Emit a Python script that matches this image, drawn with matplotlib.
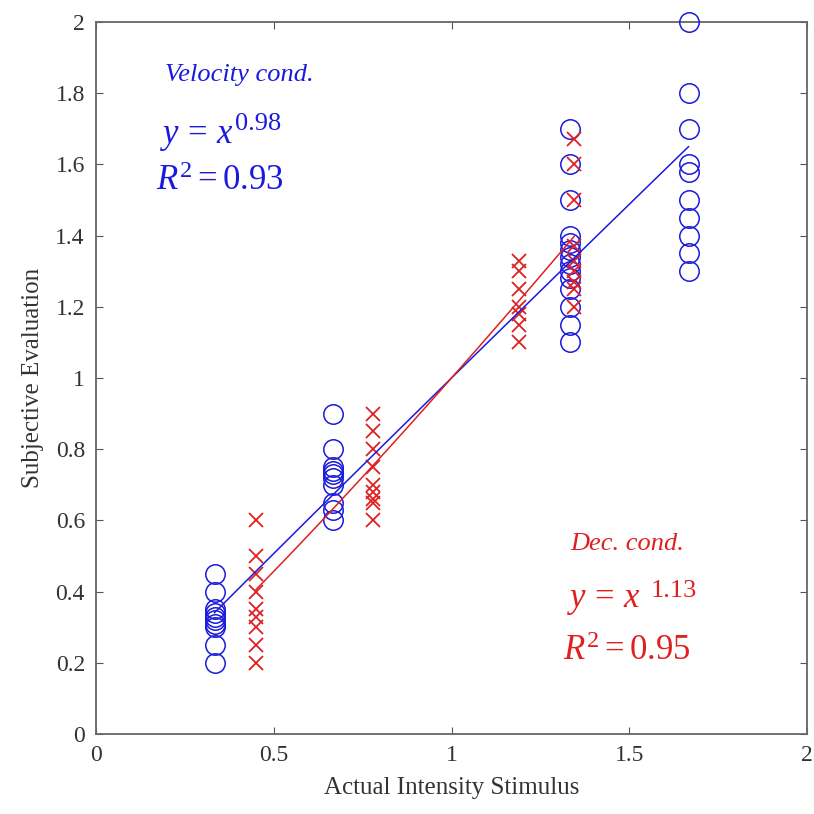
import numpy as np
import matplotlib
matplotlib.use("Agg")
import matplotlib.pyplot as plt

# Velocity condition (blue circles)
vel_x1 = 1/3
vel_y1 = [0.45, 0.40, 0.35, 0.34, 0.33, 0.32, 0.31, 0.30, 0.25, 0.20]
vel_x2 = 2/3
vel_y2 = [0.90, 0.80, 0.75, 0.74, 0.73, 0.72, 0.70, 0.65, 0.63, 0.60]
vel_x3 = 4/3
vel_y3 = [1.70, 1.60, 1.50, 1.40, 1.38, 1.36, 1.34, 1.32, 1.30, 1.28, 1.25, 1.20, 1.15, 1.10]
vel_x4 = 5/3
vel_y4 = [2.00, 1.80, 1.70, 1.60, 1.58, 1.50, 1.45, 1.40, 1.35, 1.30]

# Deceleration condition (red crosses)
dec_x1 = 0.45
dec_y1 = [0.60, 0.50, 0.45, 0.40, 0.35, 0.33, 0.30, 0.25, 0.20]
dec_x2 = 0.778
dec_y2 = [0.90, 0.85, 0.80, 0.75, 0.70, 0.68, 0.66, 0.65, 0.60]
dec_x3 = 1.19
dec_y3 = [1.33, 1.30, 1.25, 1.20, 1.18, 1.15, 1.10]
dec_x4 = 1.345
dec_y4 = [1.67, 1.60, 1.50, 1.37, 1.33, 1.30, 1.27, 1.25, 1.20]

vel_exp = 0.98
dec_exp = 1.13
vel_r2 = 0.93
dec_r2 = 0.95
vel_fit_range = [1/3, 5/3]
dec_fit_range = [0.45, 1.345]

blue = "#1a1adc"
red = "#e02020"

plt.rcParams['font.family'] = ['Liberation Serif', 'DejaVu Serif']
plt.rcParams['mathtext.fontset'] = 'custom'
plt.rcParams['mathtext.rm'] = 'Liberation Serif'
plt.rcParams['mathtext.it'] = 'Liberation Serif:italic'

fig = plt.figure(figsize=(8.14, 8.14), dpi=100)
ax = fig.add_axes([96/814, 1 - 734/814, (807-96)/814, (734-22)/814])

for xv, ys in [(vel_x1, vel_y1), (vel_x2, vel_y2), (vel_x3, vel_y3), (vel_x4, vel_y4)]:
    ax.plot([xv]*len(ys), ys, linestyle='none', marker='o', markersize=14,
            markerfacecolor='none', markeredgecolor=blue, markeredgewidth=1.1,
            zorder=3, clip_on=False)
for xv, ys in [(dec_x1, dec_y1), (dec_x2, dec_y2), (dec_x3, dec_y3), (dec_x4, dec_y4)]:
    ax.plot([xv]*len(ys), ys, linestyle='none', marker='x', markersize=10,
            color=red, markeredgewidth=1.3, zorder=3, clip_on=False)

xv = np.linspace(*vel_fit_range, 100)
ax.plot(xv, xv**vel_exp, color=blue, lw=1.1, zorder=4)
xd = np.linspace(*dec_fit_range, 100)
ax.plot(xd, xd**dec_exp, color=red, lw=1.1, zorder=4)

ax.set_xlim(0, 2)
ax.set_ylim(0, 2)
ax.set_xticks([0, 0.5, 1, 1.5, 2])
ax.set_xticklabels(['0', '0.5', '1', '1.5', '2'])
ax.set_yticks(np.arange(0, 2.01, 0.2))
ax.set_yticklabels(['0', '0.2', '0.4', '0.6', '0.8', '1', '1.2', '1.4', '1.6', '1.8', '2'])
ax.tick_params(direction='in', top=True, right=True, labelsize=17, length=5,
               color='#555555', labelcolor='#333333', pad=8)
for s in ax.spines.values():
    s.set_color('#666666')
    s.set_linewidth(1.3)

ax.set_xlabel('Actual Intensity Stimulus', fontsize=18, color='#333333', labelpad=8)
ax.set_ylabel('Subjective Evaluation', fontsize=18, color='#333333', labelpad=8)

def annot(x0, xcond, ycond, yeq, yr2, xexp, yexp, label, expo, r2, color):
    ax.text(xcond, ycond, label, fontsize=19, style='italic', color=color, va='baseline')
    ax.text(x0, yeq, r'$y\,=\,x$', fontsize=25, color=color, va='baseline')
    ax.text(xexp, yexp, f'{expo:.2f}', fontsize=19, color=color, va='baseline')
    ax.text(x0 - 0.01, yr2, r'$R^{\mathrm{2}} = \mathrm{%.2f}$' % r2, fontsize=25,
            color=color, va='baseline')

annot(0.18, 0.195, 1.835, 1.66, 1.528, 0.391, 1.697, 'Velocity cond.', vel_exp, vel_r2, blue)
annot(1.325, 1.335, 0.517, 0.357, 0.208, 1.56, 0.385, 'Dec. cond.', dec_exp, dec_r2, red)

fig.savefig('out.png', dpi=100)
